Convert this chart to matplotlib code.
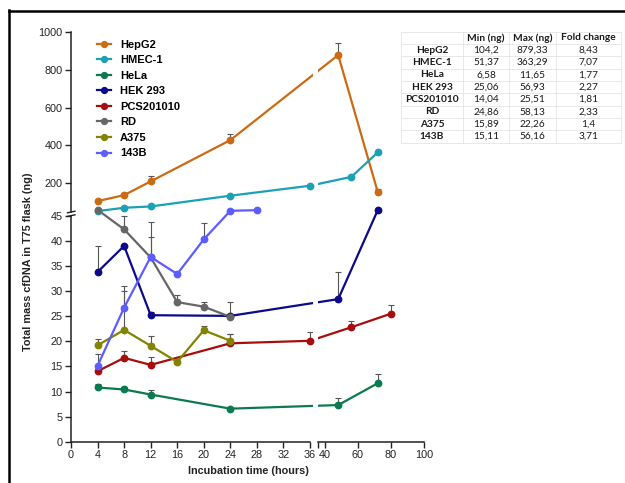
import matplotlib
matplotlib.use("Agg")
import matplotlib.pyplot as plt
from matplotlib.lines import Line2D
from matplotlib.patches import Rectangle
import numpy as np

plt.rcParams['font.family'] = ['Liberation Sans', 'DejaVu Sans']

# ---------------- data ----------------
series_names = ["HepG2", "HMEC-1", "HeLa", "HEK 293", "PCS201010", "RD", "A375", "143B"]
series_colors = ["#CC6A14", "#1BA1B5", "#0B7A4E", "#0A0A8A", "#A80D0D", "#666666", "#838300", "#5C5CFF"]

hepg2_x = [4, 8, 12, 24, 48, 72]
hepg2_y = [104.2, 136, 209, 428, 879.33, 152]
hepg2_e = [0, 10, 26, 31, 62, 18]

hmec_x = [4, 8, 12, 24, 36, 56, 72]
hmec_y = [51.37, 69, 76, 133, 186, 233, 363.29]
hmec_e = [0, 0, 0, 0, 0, 0, 0]

hela_x = [4, 8, 12, 24, 48, 72]
hela_y = [10.8, 10.4, 9.4, 6.58, 7.3, 11.65]
hela_e = [0.7, 0.4, 0.8, 0, 1.5, 1.75]

hek_x = [4, 8, 12, 24, 48, 72]
hek_y = [33.8, 39.0, 25.2, 25.06, 28.4, 56.93]
hek_e = [5.1, 0, 0.7, 0, 5.4, 0]

pcs_x = [4, 8, 12, 24, 36, 56, 80]
pcs_y = [14.04, 16.7, 15.3, 19.6, 20.1, 22.8, 25.51]
pcs_e = [0, 1.4, 1.5, 1.8, 1.7, 1.3, 1.7]

rd_x = [4, 8, 12, 16, 20, 24]
rd_y = [58.13, 42.3, 36.7, 27.8, 26.9, 24.86]
rd_e = [0, 2.7, 7.1, 1.4, 1.0, 3.0]

a375_x = [4, 8, 12, 16, 20, 24]
a375_y = [19.2, 22.26, 19.1, 15.89, 22.2, 20.1]
a375_e = [1.2, 7.8, 2.0, 0, 0.8, 1.3]

b143_x = [4, 8, 12, 16, 20, 24, 28]
b143_y = [15.11, 26.7, 36.8, 33.4, 40.3, 53, 56.16]
b143_e = [2.4, 4.3, 4.0, 0.5, 3.3, 0, 0]

all_x = [hepg2_x, hmec_x, hela_x, hek_x, pcs_x, rd_x, a375_x, b143_x]
all_y = [hepg2_y, hmec_y, hela_y, hek_y, pcs_y, rd_y, a375_y, b143_y]
all_e = [hepg2_e, hmec_e, hela_e, hek_e, pcs_e, rd_e, a375_e, b143_e]

table_header = ["", "Min (ng)", "Max (ng)", "Fold change"]
table_cells = ["HepG2", "HMEC-1", "HeLa", "HEK 293", "PCS201010", "RD", "A375", "143B"]
table_min = ["104,2", "51,37", "6,58", "25,06", "14,04", "24,86", "15,89", "15,11"]
table_max = ["879,33", "363,29", "11,65", "56,93", "25,51", "58,13", "22,26", "56,16"]
table_fold = ["8,43", "7,07", "1,77", "2,27", "1,81", "2,33", "1,4", "3,71"]

bottom_yticks = [0, 5, 10, 15, 20, 25, 30, 35, 40, 45]
top_yticks = [200, 400, 600, 800, 1000]
left_xticks = [0, 4, 8, 12, 16, 20, 24, 28, 32, 36]
right_xticks = [40, 60, 80, 100]

# ---------------- layout ----------------
W, H = 625, 483
fig = plt.figure(figsize=(W / 100, H / 100), dpi=100)

def fx(p):
    return p / W

def fy(p):
    return 1 - p / H

L0, L1 = 71, 310
R0, R1 = 318.4, 424
T0, T1 = 32.3, 212.3
B0, B1 = 215.8, 441.7

XB, YB_ = 36.0, 45.0
XMAX, YMAX = 100.0, 1000.0

def mk(x0, x1, y0, y1):
    return fig.add_axes([fx(x0), fy(y1), (x1 - x0) / W, (y1 - y0) / H])

# decoration axes (spines / ticks only)
ax_tl = mk(L0, L1, T0, T1)
ax_tr = mk(R0, R1, T0, T1)
ax_bl = mk(L0, L1, B0, B1)
ax_br = mk(R0, R1, B0, B1)

limits = {ax_tl: ((0, XB), (YB_, YMAX)), ax_tr: ((XB, XMAX), (YB_, YMAX)),
          ax_bl: ((0, XB), (0, YB_)), ax_br: ((XB, XMAX), (0, YB_))}

fs = 7.8
for ax, (xl, yl) in limits.items():
    ax.set_xlim(*xl)
    ax.set_ylim(*yl)
    ax.patch.set_alpha(0)
    for s in ax.spines.values():
        s.set_visible(False)
    ax.tick_params(axis='both', which='both', direction='out', length=4, width=1,
                   labelsize=fs, colors='#222222', pad=2)
    ax.set_xticks([])
    ax.set_yticks([])

ax_tl.spines['left'].set_visible(True)
ax_tl.set_yticks(top_yticks)
ax_bl.spines['left'].set_visible(True)
ax_bl.spines['bottom'].set_visible(True)
ax_bl.set_yticks(bottom_yticks)
ax_bl.set_xticks(left_xticks)
ax_br.spines['bottom'].set_visible(True)
ax_br.set_xticks(right_xticks)
ax_br.set_xticks([XB], minor=True)
ax_br.tick_params(axis='x', which='minor', length=4, width=1)
for ax in (ax_tl, ax_bl, ax_br):
    for s in ax.spines.values():
        s.set_linewidth(1.1)
        s.set_color('#222222')

# ---------------- broken scales for the data overlay ----------------
kxL = (L1 - L0) / XB
kxR = (R1 - R0) / (XMAX - XB)
gx = R0 - L1
kyB = (B1 - B0) / YB_
kyT = (T1 - T0) / (YMAX - YB_)
gy = B0 - T1

def xf(v):
    v = np.asarray(v, dtype=float)
    return np.where(v <= XB, v, XB + (gx + (v - XB) * kxR) / kxL)

def xi(u):
    u = np.asarray(u, dtype=float)
    return np.where(u <= XB, u, XB + np.maximum((u - XB) * kxL - gx, 0) / kxR)

def yf(v):
    v = np.asarray(v, dtype=float)
    return np.where(v <= YB_, v, YB_ + (gy + (v - YB_) * kyT) / kyB)

def yi(u):
    u = np.asarray(u, dtype=float)
    return np.where(u <= YB_, u, YB_ + np.maximum((u - YB_) * kyB - gy, 0) / kyT)

ax_d = mk(L0, R1, T0, B1)
ax_d.set_xscale('function', functions=(xf, xi))
ax_d.set_yscale('function', functions=(yf, yi))
ax_d.set_xlim(0, XMAX)
ax_d.set_ylim(0, YMAX)
ax_d.set_axis_off()

for name, col, xs, ys, es in zip(series_names, series_colors, all_x, all_y, all_e):
    ax_d.plot(xs, ys, color=col, lw=1.6, zorder=3, clip_on=False)
    for x, y, e in zip(xs, ys, es):
        if e > 0:
            ax_d.errorbar([x], [y], yerr=[[0], [e]], fmt='none', ecolor='#555555',
                          elinewidth=0.8, capsize=2.5, capthick=0.8, zorder=2, clip_on=False)
    ax_d.plot(xs, ys, 'o', color=col, ms=4.6, zorder=5, clip_on=False)

# gap of the x break (white band over the lines)
ax_d.add_patch(Rectangle((fx(L1 + 2.6), fy(B1 - 2)), (R0 - L1 - 3.2) / W, (B1 - 2 - T0 + 10) / H,
                         transform=fig.transFigure, facecolor='white', edgecolor='none',
                         zorder=4, clip_on=False))

# y-axis break marks
for yy in (212.0, 215.6):
    fig.add_artist(Line2D([fx(67.5), fx(75)], [fy(yy + 0.8), fy(yy - 0.8)],
                          color='#222222', lw=1.0))

# ---------------- legend ----------------
handles = [Line2D([], [], color=c, lw=1.6, marker='o', ms=4.2) for c in series_colors]
fig.legend(handles, series_names, loc='upper left', bbox_to_anchor=(fx(97), fy(39.5)),
           frameon=False, prop={'weight': 'bold', 'size': 8.0}, handlelength=1.3,
           handletextpad=0.75, labelspacing=0.5, borderpad=0, borderaxespad=0)

# ---------------- axis labels ----------------
fig.text(fx(28), fy(262), "Total mass cfDNA in T75 flask (ng)", rotation=90,
         ha='center', va='center', fontsize=fs, fontweight='bold', color='#222222')
fig.text(fx(248), fy(471), "Incubation time (hours)", ha='center', va='center',
         fontsize=fs, fontweight='bold', color='#222222')

# ---------------- table ----------------
col_b = [401, 463, 509, 556, 621]
row_b = [31.7 + 12.33 * i for i in range(10)]
grid_c = '#E4E4E4'
for yb in row_b:
    fig.add_artist(Line2D([fx(col_b[0]), fx(col_b[-1])], [fy(yb), fy(yb)], color=grid_c, lw=0.6))
for xb in col_b:
    fig.add_artist(Line2D([fx(xb), fx(xb)], [fy(row_b[0]), fy(row_b[-1])], color=grid_c, lw=0.6))

tfs = 7.3
tfam = ['Lato', 'DejaVu Sans']
rows = [table_header] + [[a, b, c, d] for a, b, c, d in zip(table_cells, table_min, table_max, table_fold)]
for i, row in enumerate(rows):
    yc = (row_b[i] + row_b[i + 1]) / 2
    for j, txt in enumerate(row):
        xc = (col_b[j] + col_b[j + 1]) / 2
        bold = (i == 0) or (j == 0)
        fig.text(fx(xc), fy(yc), txt, ha='center', va='center', fontsize=tfs,
                 family=tfam, fontweight='bold' if bold else 'normal', color='#1a1a1a')

# ---------------- frame ----------------
fig.add_artist(Line2D([fx(8.5), fx(625)], [fy(10.8), fy(10.8)], color='black', lw=1.8))
fig.add_artist(Line2D([fx(8.5), fx(8.5)], [fy(10), fy(483)], color='black', lw=1.8))

fig.savefig("out.png", dpi=100)
